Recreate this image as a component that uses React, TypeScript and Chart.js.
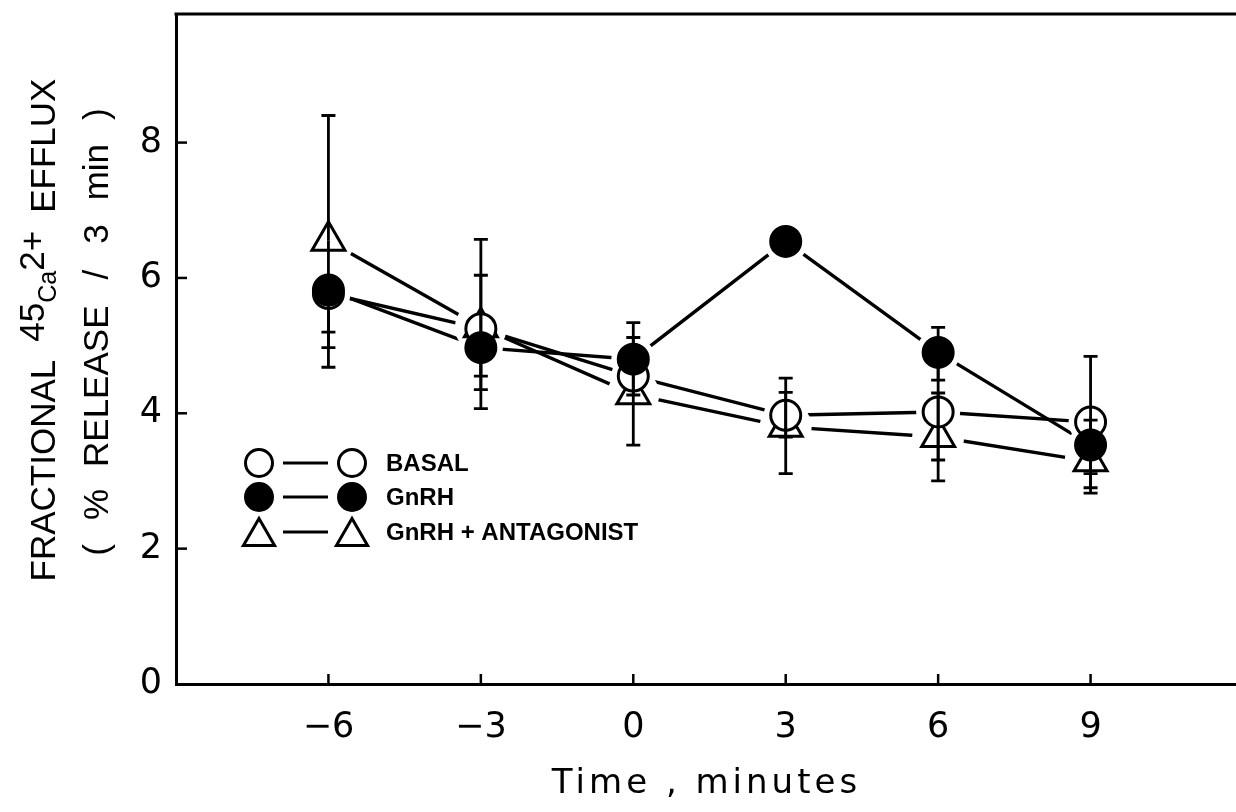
import React, { useEffect, useRef } from 'react';
import { Chart, registerables } from 'chart.js';

Chart.register(...registerables);

// Sampling times (minutes) and mean fractional efflux per group
const times = [-6, -3, 0, 3, 6, 9];
const basal = [5.77, 5.25, 4.55, 3.97, 4.02, 3.87];
const gnrh = [5.82, 4.97, 4.8, 6.54, 4.9, 3.53];
const antagonist = [6.55, 5.27, 4.28, 3.8, 3.65, 3.29];

// Error bar extents above / below each mean (0 = bar hidden by the marker)
const basalErrUp = [0, 0.79, 0, 0.34, 0.7, 0.97];
const basalErrDown = [0.8, 0.9, 0, 0.32, 0.71, 0.97];
const gnrhErrUp = [0, 0, 0.54, 0, 0.37, 0.37];
const gnrhErrDown = [0.62, 0.42, 0.53, 0, 0.41, 0.42];
const antagErrUp = [1.85, 1.3, 0.84, 0.72, 0.65, 0];
const antagErrDown = [1.87, 1.2, 0.75, 0.69, 0.65, 0.47];

const xTicks = [-6, -3, 0, 3, 6, 9];
const yTicks = [0, 2, 4, 6, 8];
const legendLabels = ['BASAL', 'GnRH', 'GnRH + ANTAGONIST'];
const xTitle = 'Time , minutes';

const TICK_FONT = '"DejaVu Sans", "Liberation Sans", sans-serif';
const TEXT_FONT = '"Liberation Sans", Arial, sans-serif';

type Style = 'circle' | 'triangle';
interface Group {
  label: string;
  values: number[];
  up: number[];
  down: number[];
  style: Style;
  fill: string;
  radius: number;
  layer: number;
}

// layer: lower numbers are painted on top
const groups: Group[] = [
  { label: legendLabels[0], values: basal, up: basalErrUp, down: basalErrDown, style: 'circle', fill: '#ffffff', radius: 15, layer: 1 },
  { label: legendLabels[1], values: gnrh, up: gnrhErrUp, down: gnrhErrDown, style: 'circle', fill: '#000000', radius: 15, layer: 0 },
  { label: legendLabels[2], values: antagonist, up: antagErrUp, down: antagErrDown, style: 'triangle', fill: '#ffffff', radius: 19, layer: 1 },
];

function drawMarker(ctx: CanvasRenderingContext2D, style: Style, x: number, y: number, r: number, fill: string) {
  ctx.beginPath();
  if (style === 'circle') {
    ctx.arc(x, y, r, 0, Math.PI * 2);
  } else {
    const s = r * Math.sin((2 * Math.PI) / 3);
    ctx.moveTo(x, y - r);
    ctx.lineTo(x + s, y + r / 2);
    ctx.lineTo(x - s, y + r / 2);
    ctx.closePath();
  }
  ctx.fillStyle = fill;
  ctx.fill();
  ctx.lineWidth = 3;
  ctx.strokeStyle = '#000';
  ctx.stroke();
}

// Frame top line and inward tick marks
const framePlugin = {
  id: 'frame',
  afterDraw(chart: any) {
    const { ctx, chartArea, scales } = chart;
    ctx.save();
    ctx.strokeStyle = '#000';
    ctx.lineWidth = 3;
    ctx.beginPath();
    ctx.moveTo(chartArea.left - 1.5, chartArea.top);
    ctx.lineTo(chartArea.right, chartArea.top);
    ctx.stroke();
    ctx.lineWidth = 2.5;
    xTicks.forEach((v) => {
      const px = scales.x.getPixelForValue(v);
      ctx.beginPath();
      ctx.moveTo(px, chartArea.bottom);
      ctx.lineTo(px, chartArea.bottom - 10);
      ctx.stroke();
    });
    yTicks.forEach((v) => {
      if (v === 0) return;
      const py = scales.y.getPixelForValue(v);
      ctx.beginPath();
      ctx.moveTo(chartArea.left, py);
      ctx.lineTo(chartArea.left + 11, py);
      ctx.stroke();
    });
    ctx.restore();
  },
};

// Vertical error bars with end caps
const errorBarPlugin = {
  id: 'errorBars',
  afterDatasetsDraw(chart: any) {
    const { ctx, scales } = chart;
    ctx.save();
    ctx.strokeStyle = '#000';
    ctx.lineWidth = 2.8;
    groups.forEach((g) => {
      g.values.forEach((v, i) => {
        const px = scales.x.getPixelForValue(times[i]);
        const py = scales.y.getPixelForValue(v);
        [g.up[i], -g.down[i]].forEach((d) => {
          if (!d) return;
          const pe = scales.y.getPixelForValue(v + d);
          ctx.beginPath();
          ctx.moveTo(px, py);
          ctx.lineTo(px, pe);
          ctx.moveTo(px - 7, pe);
          ctx.lineTo(px + 7, pe);
          ctx.stroke();
        });
      });
    });
    ctx.restore();
  },
};

// Marker—line—marker key inside the plot
const keyPlugin = {
  id: 'key',
  afterDraw(chart: any) {
    const { ctx } = chart;
    const rows = [463, 497, 532];
    ctx.save();
    groups.forEach((g, i) => {
      const y = rows[i];
      const r = g.style === 'circle' ? 13.5 : 18;
      const cy = g.style === 'circle' ? y : y + r / 4;
      drawMarker(ctx, g.style, 259, cy, r, g.fill);
      drawMarker(ctx, g.style, 352, cy, r, g.fill);
      ctx.beginPath();
      ctx.lineWidth = 3;
      ctx.moveTo(283, y);
      ctx.lineTo(328, y);
      ctx.stroke();
      ctx.fillStyle = '#000';
      ctx.font = `bold 24px ${TEXT_FONT}`;
      ctx.textAlign = 'left';
      ctx.textBaseline = 'middle';
      ctx.fillText(g.label, 386, y + 1);
    });
    ctx.restore();
  },
};

// Two-line rotated y-axis title with super/subscripts
const yTitlePlugin = {
  id: 'yTitle',
  afterDraw(chart: any) {
    const { ctx } = chart;
    const size = 35;
    type Part = { t: string; k: number; dy: number };
    const line1: Part[] = [
      { t: 'FRACTIONAL', k: 1, dy: 0 },
      { t: '45', k: 1, dy: -0.3 },
      { t: 'Ca', k: 0.72, dy: 0.02 },
      { t: '2+', k: 1, dy: -0.3 },
      { t: 'EFFLUX', k: 1, dy: 0 },
    ];
    const gaps1 = [18, 0, 0, 18];
    const line2: Part[] = ['(', '%', 'RELEASE', '/', '3', 'min', ')'].map((t) => ({ t, k: 1, dy: 0 }));
    const gaps2 = [24, 22, 26, 26, 24, 24];
    const draw = (parts: Part[], gaps: number[], cx: number, cy: number) => {
      ctx.save();
      ctx.translate(cx, cy);
      ctx.rotate(-Math.PI / 2);
      ctx.fillStyle = '#000';
      ctx.textBaseline = 'middle';
      ctx.textAlign = 'left';
      let total = 0;
      parts.forEach((p, i) => {
        ctx.font = `${size * p.k}px ${TEXT_FONT}`;
        total += ctx.measureText(p.t).width + (i < gaps.length ? gaps[i] : 0);
      });
      let x = -total / 2;
      parts.forEach((p, i) => {
        ctx.font = `${size * p.k}px ${TEXT_FONT}`;
        const off = p.k < 1 ? size * (1 - p.k) * 0.3 : 0;
        ctx.fillText(p.t, x, p.dy * size + off);
        x += ctx.measureText(p.t).width + (i < gaps.length ? gaps[i] : 0);
      });
      ctx.restore();
    };
    draw(line1, gaps1, 45, 330);
    draw(line2, gaps2, 98, 332);
  },
};

// Widely tracked x-axis title below the tick labels
const xTitlePlugin = {
  id: 'xTitle',
  afterDraw(chart: any) {
    const { ctx, scales } = chart;
    ctx.save();
    ctx.fillStyle = '#000';
    ctx.font = `34px ${TICK_FONT}`;
    (ctx as any).letterSpacing = '4px';
    ctx.textAlign = 'center';
    ctx.textBaseline = 'middle';
    const cx = (scales.x.getPixelForValue(0) + scales.x.getPixelForValue(3)) / 2 - 3;
    ctx.fillText(xTitle, cx, 784);
    ctx.restore();
  },
};

function pts(values: number[]) {
  return values.map((v, i) => ({ x: times[i], y: v }));
}

function noScalePadding(s: any) {
  s.paddingTop = 0;
  s.paddingBottom = 0;
  s.paddingLeft = 0;
  s.paddingRight = 0;
}

export default function App() {
  const canvasRef = useRef<HTMLCanvasElement | null>(null);

  useEffect(() => {
    if (!canvasRef.current) return;
    const datasets: any[] = [];
    groups.forEach((g) => {
      datasets.push({
        label: g.label + ' line',
        data: pts(g.values),
        borderColor: '#000',
        borderWidth: 3.4,
        pointRadius: 0,
        showLine: true,
        tension: 0,
        order: 4,
      });
      datasets.push({
        label: g.label + ' halo',
        data: pts(g.values),
        showLine: false,
        pointStyle: 'circle',
        pointRadius: g.radius + 7,
        pointBackgroundColor: '#fff',
        pointBorderWidth: 0,
        pointBorderColor: '#fff',
        order: 3,
      });
      datasets.push({
        label: g.label,
        data: pts(g.values),
        showLine: false,
        pointStyle: g.style,
        pointRadius: g.radius,
        pointBackgroundColor: g.fill,
        pointBorderColor: '#000',
        pointBorderWidth: 3,
        order: g.layer,
      });
    });

    const chart = new Chart(canvasRef.current, {
      type: 'scatter',
      data: { datasets },
      options: {
        animation: false,
        responsive: true,
        maintainAspectRatio: false,
        events: [],
        layout: { autoPadding: false, padding: { top: 14, left: 0, right: 0, bottom: 0 } },
        plugins: { legend: { display: false }, tooltip: { enabled: false } },
        scales: {
          x: {
            type: 'linear',
            position: 'bottom',
            min: -9,
            max: 12,
            afterBuildTicks: (s: any) => {
              s.ticks = xTicks.map((v) => ({ value: v }));
            },
            afterFit: (s: any) => {
              s.height = 128;
              noScalePadding(s);
            },
            grid: { display: false, drawTicks: false },
            border: { display: true, color: '#000', width: 3 },
            ticks: {
              color: '#000',
              padding: 23,
              maxRotation: 0,
              font: { family: TICK_FONT, size: 35 },
              callback: (v: any) => (Number(v) < 0 ? '\u2212' + Math.abs(Number(v)) : String(v)),
            },
            title: { display: false },
          },
          y: {
            type: 'linear',
            min: 0,
            max: 9.9,
            afterBuildTicks: (s: any) => {
              s.ticks = yTicks.map((v) => ({ value: v }));
            },
            afterFit: (s: any) => {
              s.width = 176;
              noScalePadding(s);
            },
            grid: { display: false, drawTicks: false },
            border: { display: true, color: '#000', width: 3 },
            ticks: {
              color: '#000',
              padding: 14,
              font: { family: TICK_FONT, size: 35 },
            },
            title: { display: false },
          },
        },
      },
      plugins: [errorBarPlugin, framePlugin, keyPlugin, yTitlePlugin, xTitlePlugin],
    });
    return () => chart.destroy();
  }, []);

  return (
    <div style={{ position: 'absolute', left: 0, top: 0, width: 1236, height: 812, overflow: 'hidden', background: '#fff' }}>
      <div style={{ position: 'relative', width: 1243, height: 812 }}>
        <canvas ref={canvasRef} />
      </div>
    </div>
  );
}
